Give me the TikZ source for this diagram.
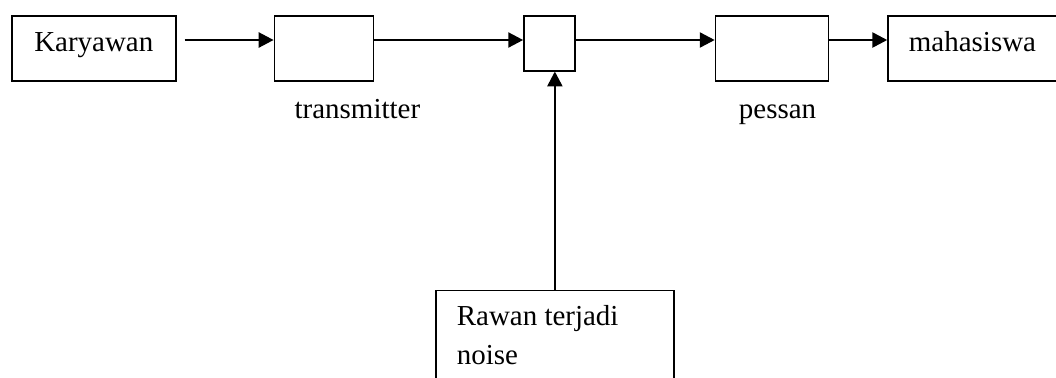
\documentclass[tikz,border=0pt]{standalone}
\usepackage{fontspec}
\setmainfont{Liberation Serif}
\usetikzlibrary{arrows.meta, positioning, calc}

\begin{document}
\begin{tikzpicture}[
                font=\fontsize{20.6}{27.8}\selectfont,
                >={Triangle[length=3.7mm, width=3.8mm]},
                line width=1.1pt,
                box/.style={
                        draw, minimum height=16.25mm,
                        text height=0.68em, text depth=0.22em,
                        inner sep=0pt
                    },
                lbl/.style={anchor=base, inner sep=0pt},
                arr/.style={->},
                ]
                \useasboundingbox (0,0) rectangle (26.4,-9.425);
                \clip (0,0) rectangle (26.4,-9.425);

                \node[box, minimum width=41mm, anchor=north west] (kar) at (0.275,-0.375) {Karyawan};
                \node[box, minimum width=24.75mm, right=24.25mm of kar.north east, anchor=north west] (trans) {};
                \node[box, minimum width=12.75mm, minimum height=13.75mm, right=37.25mm of trans.north east, anchor=north west] (mid) {};
                \node[box, minimum width=28.25mm, right=34.75mm of mid.north east, anchor=north west] (pes) {};
                \node[box, text width=60mm, align=left, inner xsep=5.25mm, right=14.5mm of pes.north east, anchor=north west] (mhs) {mahasiswa};

                \node[lbl] (transl) at ($(trans.south)+(8.4mm,-9.25mm)$) {transmitter};
                \node[lbl] (pesl) at ($(pes.south)+(1.4mm,-9.25mm)$) {pessan};

                \node[draw, inner xsep=5.25mm, inner ysep=3.8mm, below=54.5mm of mid.south west, anchor=north west, xshift=-22mm] (noise)
                    {\parbox[t][30mm][t]{49mm}{\raggedright Rawan terjadi\\noise}};

                \draw[arr] ([xshift=2mm, yshift=-6.25mm]kar.north east) -- ([yshift=-6.25mm]trans.north west);
                \draw[arr] ([yshift=-6.25mm]trans.north east) -- ([yshift=-6.25mm]mid.north west);
                \draw[arr] ([yshift=-6.25mm]mid.north east) -- ([yshift=-6.25mm]pes.north west);
                \draw[arr] ([yshift=-6.25mm]pes.north east) -- ([yshift=-6.25mm]mhs.north west);
                \draw[arr] (noise.north) -- (noise.north |- mid.south);
            \end{tikzpicture}
\end{document}
